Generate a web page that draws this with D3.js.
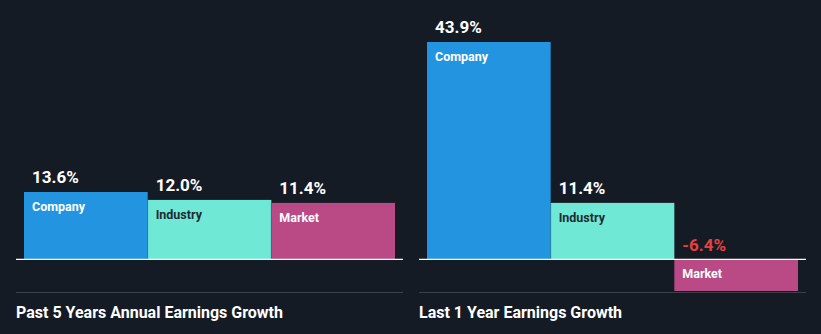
<!DOCTYPE html>
<html><head><meta charset="utf-8">
<script src="https://cdn.jsdelivr.net/npm/d3@7"></script>
<style>
html,body{margin:0;padding:0;background:#151b25;}
svg{display:block;font-family:Roboto,"Open Sans",sans-serif;}
</style></head>
<body>
<svg id="c" width="821" height="334"></svg>
<script>
const categories = ["Company", "Industry", "Market"];
const panelTitles = ["Past 5 Years Annual Earnings Growth", "Last 1 Year Earnings Growth"];
const past5Years = [13.6, 12.0, 11.4];
const last1Year = [43.9, 11.4, -6.4];
const panelValues = [past5Years, last1Year];

const colors = {Company: "#2394df", Industry: "#6fe8d5", Market: "#b94a86"};
const labelColors = {Company: "#ffffff", Industry: "#1f2a33", Market: "#ffffff"};

const fmt = d3.formatLocale({decimal: ".", thousands: ",", grouping: [3], currency: ["", ""], minus: "-"}).format(".1f");

const svg = d3.select("#c");
svg.append("rect").attr("width", 821).attr("height", 334).attr("fill", "#151b25");

const allVals = past5Years.concat(last1Year);
const y = d3.scaleLinear().domain([d3.min(allVals), d3.max(allVals)]).range([291, 42]);

const panels = [{x0: 16, x1: 403}, {x0: 419, x1: 806}];

panels.forEach((p, i) => {
  const g = svg.append("g");
  const x = d3.scaleBand().domain(categories).range([p.x0 + 8, p.x1 - 8]).padding(0);
  const vals = panelValues[i];
  const y0 = y(0);

  categories.forEach((c, j) => {
    const v = vals[j];
    const top = v >= 0 ? y(v) : y0;
    const h = Math.abs(y(v) - y0);
    g.append("rect")
      .attr("x", x(c)).attr("y", top)
      .attr("width", x.bandwidth()).attr("height", h)
      .attr("fill", colors[c]);
    g.append("text")
      .attr("x", x(c) + 8)
      .attr("y", v >= 0 ? y(v) - 9 : y0 - 8)
      .attr("fill", v >= 0 ? "#ffffff" : "#e8403f")
      .attr("font-size", 17).attr("font-weight", 700)
      .text(fmt(v) + "%");
    g.append("text")
      .attr("x", x(c) + 8)
      .attr("y", (v >= 0 ? y(v) : y0) + 19)
      .attr("fill", labelColors[c])
      .attr("font-size", 12.5).attr("font-weight", 700)
      .text(c);
  });
  categories.slice(1).forEach((c, j) => {
    const vPrev = vals[j], v = vals[j + 1];
    const topA = Math.max(Math.min(y(vPrev), y0), Math.min(y(v), y0));
    if (vPrev > 0 && v > 0) {
      g.append("line").attr("x1", x(c)).attr("x2", x(c))
        .attr("y1", topA).attr("y2", y0)
        .attr("stroke", "#1a6fa8").attr("stroke-opacity", 0.6).attr("stroke-width", 1);
    }
  });
  g.append("line").attr("x1", p.x0).attr("x2", p.x1)
    .attr("y1", y0).attr("y2", y0)
    .attr("stroke", "#ffffff").attr("stroke-width", 1.2);
  g.append("line").attr("x1", p.x0).attr("x2", p.x1)
    .attr("y1", 292.5).attr("y2", 292.5)
    .attr("stroke", "#3b4049").attr("stroke-width", 1);
  g.append("text").attr("x", p.x0).attr("y", 318)
    .attr("fill", "#ffffff").attr("font-size", 16).attr("font-weight", 700)
    .text(panelTitles[i]);
});
</script>
</body></html>
